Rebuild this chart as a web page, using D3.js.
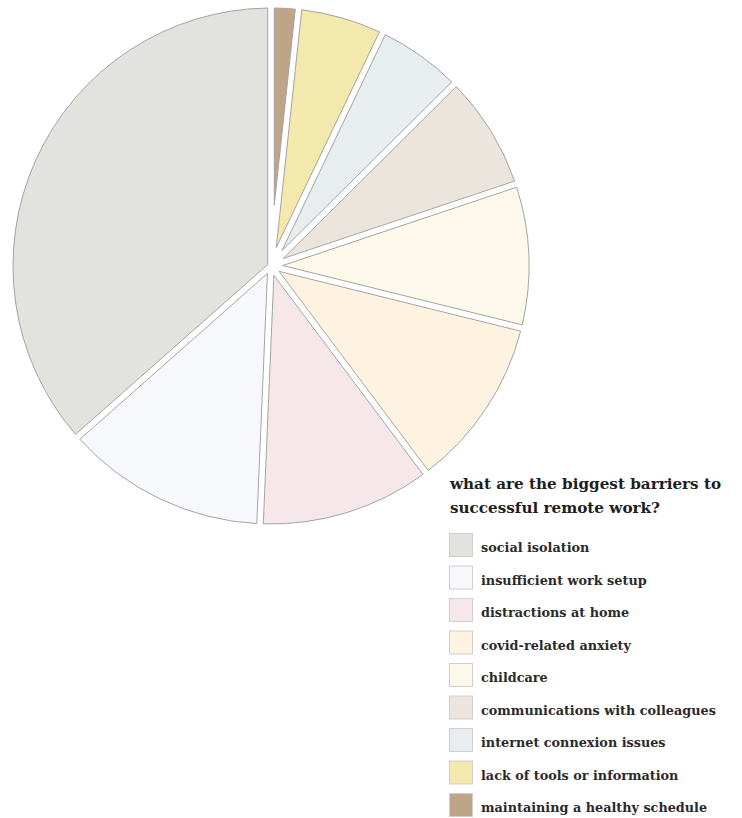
<!DOCTYPE html>
<html lang="en">
<head>
  <meta charset="UTF-8" />
  <title>Barriers to remote work</title>
  <script src="https://d3js.org/d3.v7.min.js"></script>
  <style>
    body {
      margin: 0;
      background: #fff;
    }
    svg {
      display: block;
    }
    path.slice {
      stroke: #a4a4a4;
      stroke-width: 1px;
    }
    .title {
      font-family: 'DejaVu Serif', serif;
      font-weight: bold;
      font-size: 15.2px;
      fill: #1e1e1e;
    }
    .legend-label {
      font-family: 'DejaVu Serif', serif;
      font-weight: bold;
      font-size: 12.8px;
      fill: #2a2a2a;
    }
    .legend-box {
      stroke: #cfcfcf;
      stroke-width: 1px;
    }
  </style>
</head>
<body>
  <svg width="742" height="818"></svg>

<script>
const categories = [
  "social isolation",
  "insufficient work setup",
  "distractions at home",
  "covid-related anxiety",
  "childcare",
  "communications with colleagues",
  "internet connexion issues",
  "lack of tools or information",
  "maintaining a healthy schedule"
];
const shares = [36.5, 12.8, 10.9, 10.9, 9.0, 7.3, 5.45, 5.4, 1.7];
const colors = ["#e2e3de", "#f7f8fb", "#f6e8ea", "#fdf3e0", "#fcf9ea", "#ece5dd", "#e8edf0", "#f3e9ad", "#bfa588"];
const titleLines = ["what are the biggest barriers to", "successful remote work?"];

const svg = d3.select("svg");
const cx = 271, cy = 266, R = 258;
const gap = 6.5;

// slices run counter-clockwise from 12 o'clock
const pie = d3.pie().sort(null).value(d => d).startAngle(0).endAngle(-2 * Math.PI);
const arcs = pie(shares);

const color = d3.scaleOrdinal().domain(categories).range(colors);

// each wedge has its straight edges pulled in by gap/2 so the gaps stay parallel
function slicePath(d) {
  const a0 = Math.min(d.startAngle, d.endAngle);
  const a1 = Math.max(d.startAngle, d.endAngle);
  const h = gap / 2;
  const mid = (a0 + a1) / 2;
  const t = h / Math.sin((a1 - a0) / 2);
  const da = Math.asin(h / R);
  const p = d3.path();
  p.moveTo(cx + t * Math.sin(mid), cy - t * Math.cos(mid));
  p.lineTo(cx + R * Math.sin(a0 + da), cy - R * Math.cos(a0 + da));
  p.arc(cx, cy, R, a0 + da - Math.PI / 2, a1 - da - Math.PI / 2, false);
  p.closePath();
  return p.toString();
}

svg.append("g")
  .selectAll("path.slice")
  .data(arcs)
  .enter()
  .append("path")
  .attr("class", "slice")
  .attr("d", slicePath)
  .attr("fill", (d, i) => color(categories[i]));

// title
svg.selectAll("text.title")
  .data(titleLines)
  .enter()
  .append("text")
  .attr("class", "title")
  .attr("x", 450)
  .attr("y", (d, i) => 489 + i * 24)
  .text(d => d);

// legend
const row = d3.scaleBand()
  .domain(categories)
  .range([533, 533 + 32.5 * categories.length]);

const legend = svg.append("g")
  .selectAll("g")
  .data(categories)
  .enter()
  .append("g")
  .attr("transform", d => `translate(449,${row(d)})`);

legend.append("rect")
  .attr("class", "legend-box")
  .attr("x", 0.5)
  .attr("y", 0.5)
  .attr("width", 23)
  .attr("height", 23)
  .attr("fill", d => color(d));

legend.append("text")
  .attr("class", "legend-label")
  .attr("x", 32)
  .attr("y", 19)
  .text(d => d);
</script>
</body>
</html>
